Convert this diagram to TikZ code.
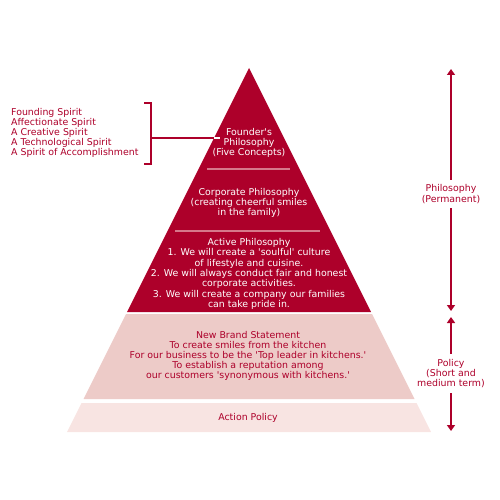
\documentclass[tikz,border=0pt]{standalone}
\usepackage{fontspec}
\setmainfont{DejaVu Sans}[Ligatures=TeXOff]
\usetikzlibrary{arrows.meta}
\definecolor{kred}{RGB}{173,0,42}
\definecolor{kpink}{RGB}{237,203,200}
\definecolor{klight}{RGB}{248,228,226}
\definecolor{ksep}{RGB}{214,120,138}
\tikzset{
  wtext/.style={text=white,align=center,inner sep=0pt,font=\fontsize{9.4}{10.4}\selectfont},
  rtext/.style={text=kred,align=center,inner sep=0pt,font=\fontsize{9.4}{10.2}\selectfont},
  septline/.style={draw=ksep,line width=1.6pt},
  arr/.style={draw=kred,line width=2pt,-{Triangle[length=6pt,width=8pt]}},
  brk/.style={draw=kred,line width=2pt}
}
\begin{document}
\begin{tikzpicture}[x=1pt,y=-1pt]
\useasboundingbox (0,0) rectangle (500,500);
% layers
\fill[kred] (249,68) -- (371,312) -- (127,312) -- cycle;
\fill[kpink] (126,314) -- (372,314) -- (414.5,399) -- (83.5,399) -- cycle;
\fill[klight] (81.5,403) -- (416.5,403) -- (431,432) -- (67,432) -- cycle;
% separators
\draw[septline] (207,169) -- (290,169);
\draw[septline] (175,231) -- (320,231);
% texts in pyramid
\node[wtext] (founder) at (249,143) {Founder's\\Philosophy\\(Five Concepts)};
\node[wtext] (corp) at (249,203) {Corporate Philosophy\\(creating cheerful smiles\\in the family)};
\node[wtext] (active) at (249,274) {Active Philosophy\\1. We will create a 'soulful' culture\\of lifestyle and cuisine.\\2. We will always conduct fair and honest\\corporate activities.\\3. We will create a company our families\\can take pride in.};
\node[rtext] (brand) at (248,356) {New Brand Statement\\To create smiles from the kitchen\\For our business to be the 'Top leader in kitchens.'\\To establish a reputation among\\our customers 'synonymous with kitchens.'};
\node[rtext] (action) at (248,418) {Action Policy};
% left list and bracket
\node[rtext,align=left,anchor=west] (spirits) at (11,133) {Founding Spirit\\Affectionate Spirit\\A Creative Spirit\\A Technological Spirit\\A Spirit of Accomplishment};
\coordinate (bt) at (144,103);
\coordinate (bb) at (144,164);
\coordinate (bm) at (151,138);
\coordinate (be) at (214,138);
\coordinate (bw) at (220,138);
\draw[brk] (bt) -- ++(7,0) |- (bb);
\draw[brk] (bm) -- (be);
\draw[draw=white,line width=2pt] (be) -- (bw);
% right arrows
\node[rtext,inner ysep=5pt] (phil) at (451,194) {Philosophy\\(Permanent)};
\coordinate (ptop) at (451,69);
\coordinate (pbot) at (451,311);
\draw[arr] (phil.north) -- (ptop);
\draw[arr] (phil.south) -- (pbot);
\node[rtext,inner ysep=5pt] (pol) at (451,373.5) {Policy\\(Short and\\medium term)};
\coordinate (qtop) at (451,317);
\coordinate (qbot) at (451,431);
\draw[arr] (pol.north) -- (qtop);
\draw[arr] (pol.south) -- (qbot);
\end{tikzpicture}
\end{document}
